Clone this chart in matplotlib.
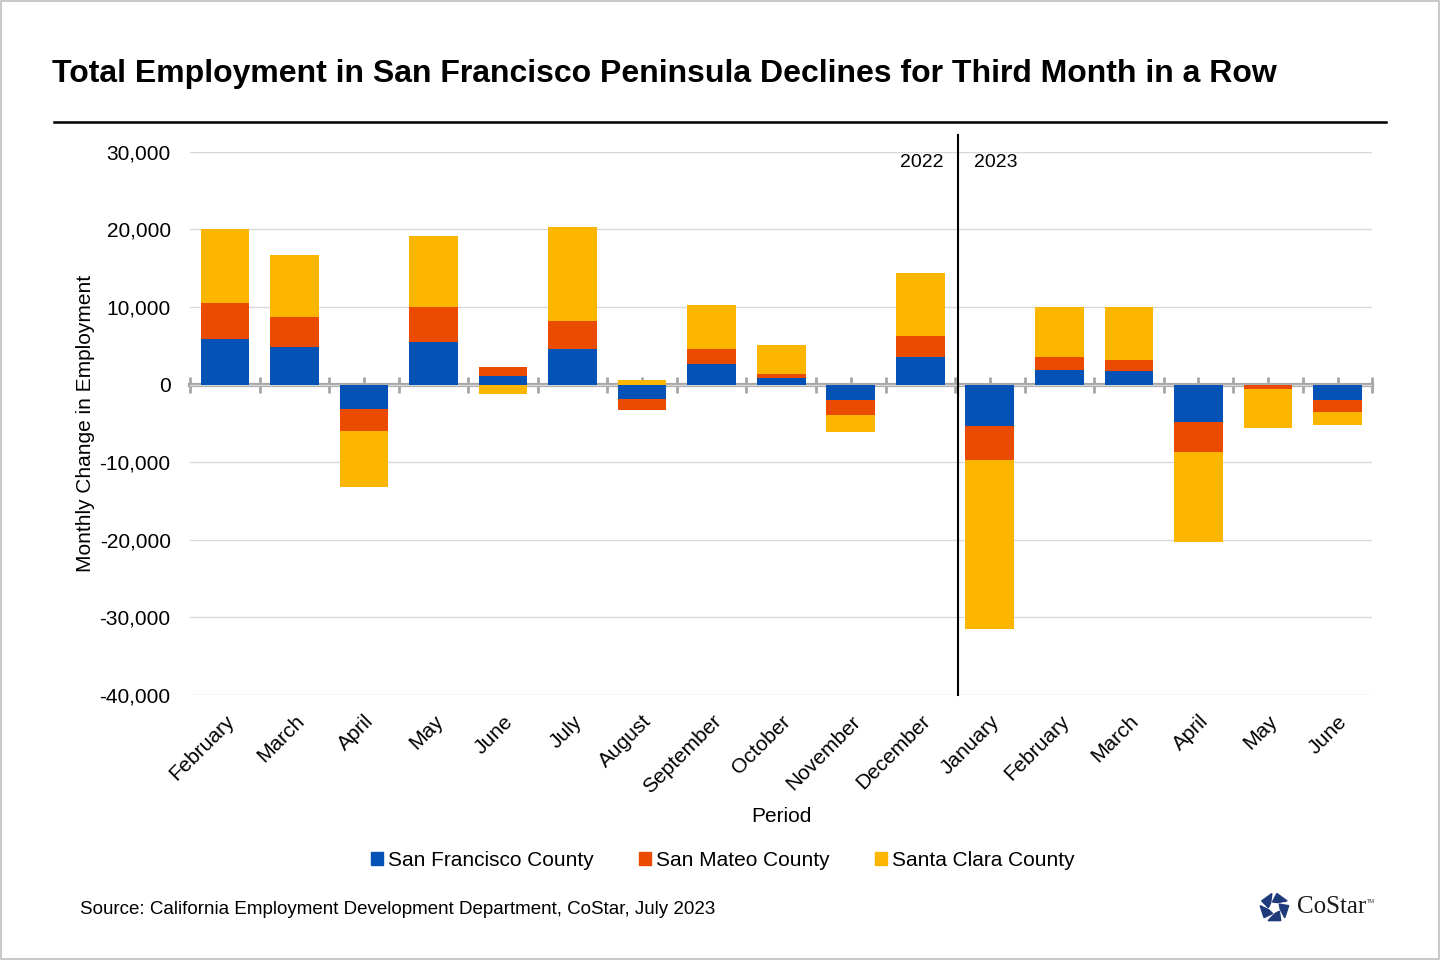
import numpy as np
import matplotlib.pyplot as plt
from matplotlib.patches import Rectangle, Polygon
from matplotlib.lines import Line2D
from matplotlib.ticker import FuncFormatter, NullFormatter

plt.rcParams['font.family'] = ['Liberation Sans', 'DejaVu Sans']

months = ['February', 'March', 'April', 'May', 'June', 'July', 'August',
          'September', 'October', 'November', 'December', 'January',
          'February', 'March', 'April', 'May', 'June']
san_francisco = [5900, 4850, -3150, 5450, 1050, 4600, -1850, 2600, 800, -2050,
                 3550, -5400, 1900, 1750, -4850, -50, -2050]
san_mateo = [4600, 3830, -2850, 4550, 1150, 3550, -1400, 2000, 600, -1850,
             2700, -4300, 1650, 1450, -3850, -550, -1450]
santa_clara = [9500, 8000, -7200, 9150, -1200, 12150, 550, 5700, 3750, -2200,
               8150, -21800, 6450, 6800, -11600, -5000, -1700]
series = [('San Francisco County', san_francisco, '#0452B5'),
          ('San Mateo County', san_mateo, '#EA4B00'),
          ('Santa Clara County', santa_clara, '#FDB600')]

fig = plt.figure(figsize=(14.4, 9.6), dpi=100)
ax = fig.add_axes([0.132, 0.276, 0.821, 0.566])

x = np.arange(len(months))
pos_base = np.zeros(len(months))
neg_base = np.zeros(len(months))
for name, vals, col in series:
    v = np.array(vals, dtype=float)
    base = np.where(v >= 0, pos_base, neg_base)
    ax.bar(x, v, width=0.7, bottom=base, color=col, zorder=2)
    pos_base += np.where(v >= 0, v, 0)
    neg_base += np.where(v < 0, v, 0)

ax.set_xlim(-0.5, len(months) - 0.5)
ax.set_ylim(-40000, 30000)
ax.set_yticks(np.arange(-40000, 30001, 10000))
ax.yaxis.set_major_formatter(FuncFormatter(lambda v, p: f'{int(v):,}'))
ax.grid(axis='y', color='#d9d9d9', lw=1, zorder=0)
ax.tick_params(axis='y', length=0, labelsize=15, pad=14)
for s in ax.spines.values():
    s.set_visible(False)

ax.set_xticks(x)
ax.set_xticklabels(months, rotation=45, ha='right', rotation_mode='anchor',
                   fontsize=15)
ax.tick_params(axis='x', length=0, pad=12)
ax.set_xlabel('Period', fontsize=15, labelpad=7)
ax.set_ylabel('Monthly Change in Employment', fontsize=15, labelpad=3)

# zero line with category ticks
zero = ax.secondary_xaxis(40 / 70)
for s in zero.spines.values():
    s.set_color('#a6a6a6')
    s.set_linewidth(3)
zero.set_xticks(x)
zero.set_xticks(np.arange(-0.5, len(months)), minor=True)
zero.xaxis.set_major_formatter(NullFormatter())
zero.xaxis.set_minor_formatter(NullFormatter())
zero.tick_params(axis='x', which='major', direction='out', length=6, width=2,
                 color='#a6a6a6')
zero.tick_params(axis='x', which='minor', direction='inout', length=12,
                 width=2, color='#a6a6a6')

# year divider
ax.axvline(10.54, ymin=0, ymax=1.03, color='black', lw=1.5, clip_on=False,
           zorder=3)
ax.text(10.54 - 0.2, 28600, '2022', ha='right', va='center', fontsize=14)
ax.text(10.54 + 0.23, 28600, '2023', ha='left', va='center', fontsize=14)

fig.text(0.036, 0.923, 'Total Employment in San Francisco Peninsula Declines '
         'for Third Month in a Row', fontsize=23, fontweight='bold',
         va='center')
fig.add_artist(Line2D([0.0375, 0.9625], [0.873, 0.873], color='black', lw=1.8))

handles = [Rectangle((0, 0), 1, 1, color=c) for _, _, c in series]
fig.legend(handles, [n for n, _, _ in series], loc='center',
           bbox_to_anchor=(0.502, 0.104), ncol=3, frameon=False, fontsize=15,
           handlelength=0.55, handleheight=0.55, handletextpad=0.25,
           columnspacing=2.2)

fig.text(0.0555, 0.053, 'Source: California Employment Development Department, '
         'CoStar, July 2023', fontsize=13.5, va='center')

# CoStar logo
lax = fig.add_axes([0.874, 0.038, 0.022, 0.033])
lax.set_xlim(-1.1, 1.1)
lax.set_ylim(-1.1, 1.1)
lax.set_aspect('equal')
lax.axis('off')
for i in range(5):
    a0 = np.deg2rad(100 + 72 * i)
    a1 = a0 + np.deg2rad(52)
    pts = [(np.cos(a0), np.sin(a0)), (np.cos(a1), np.sin(a1)),
           (0.42 * np.cos(a1 + 0.5), 0.42 * np.sin(a1 + 0.5)),
           (0.42 * np.cos(a0 + 0.5), 0.42 * np.sin(a0 + 0.5))]
    lax.add_patch(Polygon(pts, closed=True, color='#1F3A7A'))
fig.text(0.901, 0.055, 'CoStar', fontsize=18, color='#1a1a1a', va='center',
         family=['Liberation Serif', 'DejaVu Serif'])
fig.text(0.949, 0.061, 'TM', fontsize=4, color='#333333', va='center')

fig.add_artist(Rectangle((0.0005, 0.0008), 0.999, 0.9985, fill=False,
                         edgecolor='#bfbfbf', lw=1.2))

fig.savefig('out.png', dpi=100)
